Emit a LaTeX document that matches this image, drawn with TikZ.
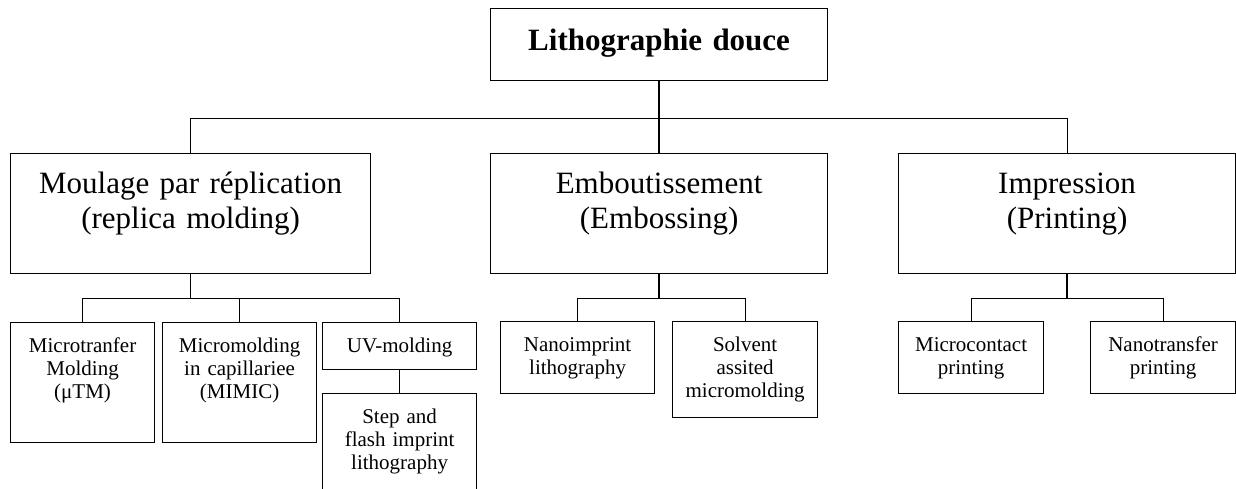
\documentclass[tikz,border=0pt]{standalone}
\usepackage{fontspec}
\setmainfont{Liberation Serif}
\usepackage{tikz}
\tikzset{box/.style={draw,line width=1.2pt,inner sep=0pt,align=center,anchor=north west},
  big/.style={box,font=\fontsize{31}{35}\selectfont,text height=40pt,text depth=80pt},
  small/.style={box,font=\fontsize{21}{23}\selectfont,text height=30pt},
  link/.style={line width=1pt},
  drop/.style={line width=1.4pt}}

\begin{document}
\begin{tikzpicture}[x=1pt,y=-1pt]
    \useasboundingbox (0,0) rectangle (1236,488);
    \node[box,text width=337pt,font=\fontsize{31}{35}\selectfont\bfseries,text height=42pt,text depth=30pt] (top) at (490,8) {Lithographie douce};
    \node[big,text width=360pt] (moul) at (10,153) {Moulage par réplication\\(replica molding)};
    \node[big,text width=337pt] (emb) at (490,153) {Emboutissement\\(Embossing)};
    \node[big,text width=337pt] (imp) at (898,153) {Impression\\(Printing)};
    \node[small,text width=144pt,text depth=90pt] (mtm) at (10,322) {Microtranfer\\Molding\\(μTM)};
    \node[small,text width=154pt,text depth=90pt] (mimic) at (162,322) {Micromolding\\in capillariee\\(MIMIC)};
    \node[small,text width=154pt,text depth=17pt] (uv) at (322,322) {UV-molding};
    \node[small,text width=154pt,text depth=110pt] (step) at (322,393) {Step and\\flash imprint\\lithography};
    \node[small,text width=154pt,text depth=42pt] (nano) at (500,321) {Nanoimprint\\lithography};
    \node[small,text width=145pt,text depth=66pt] (solv) at (672,321) {Solvent\\assited\\micromolding};
    \node[small,text width=145pt,text depth=42pt] (mcp) at (898,321) {Microcontact\\printing};
    \node[small,text width=145pt,text depth=42pt] (ntp) at (1090,321) {Nanotransfer\\printing};
    \coordinate (j0) at ([yshift=-37pt]top.south);
    \coordinate (j1) at ([yshift=-24pt]moul.south);
    \coordinate (j2) at ([yshift=-24pt]emb.south);
    \coordinate (j3) at ([yshift=-24pt]imp.south);
    \draw[drop] (top.south) -- (emb.north);
    \draw[link] (moul.north) |- (j0) -| (imp.north);
    \draw[drop] (moul.south) -- (j1);
    \draw[link] (mtm.north) |- (j1) -| (uv.north);
    \draw[link] (mimic.north) -- (mimic.north |- j1);
    \draw[link] (uv.south) -- (step.north);
    \draw[drop] (emb.south) -- (j2);
    \draw[link] (nano.north) |- (j2) -| (solv.north);
    \draw[drop] (imp.south) -- (j3);
    \draw[link] (mcp.north) |- (j3) -| (ntp.north);
\end{tikzpicture}
\end{document}
